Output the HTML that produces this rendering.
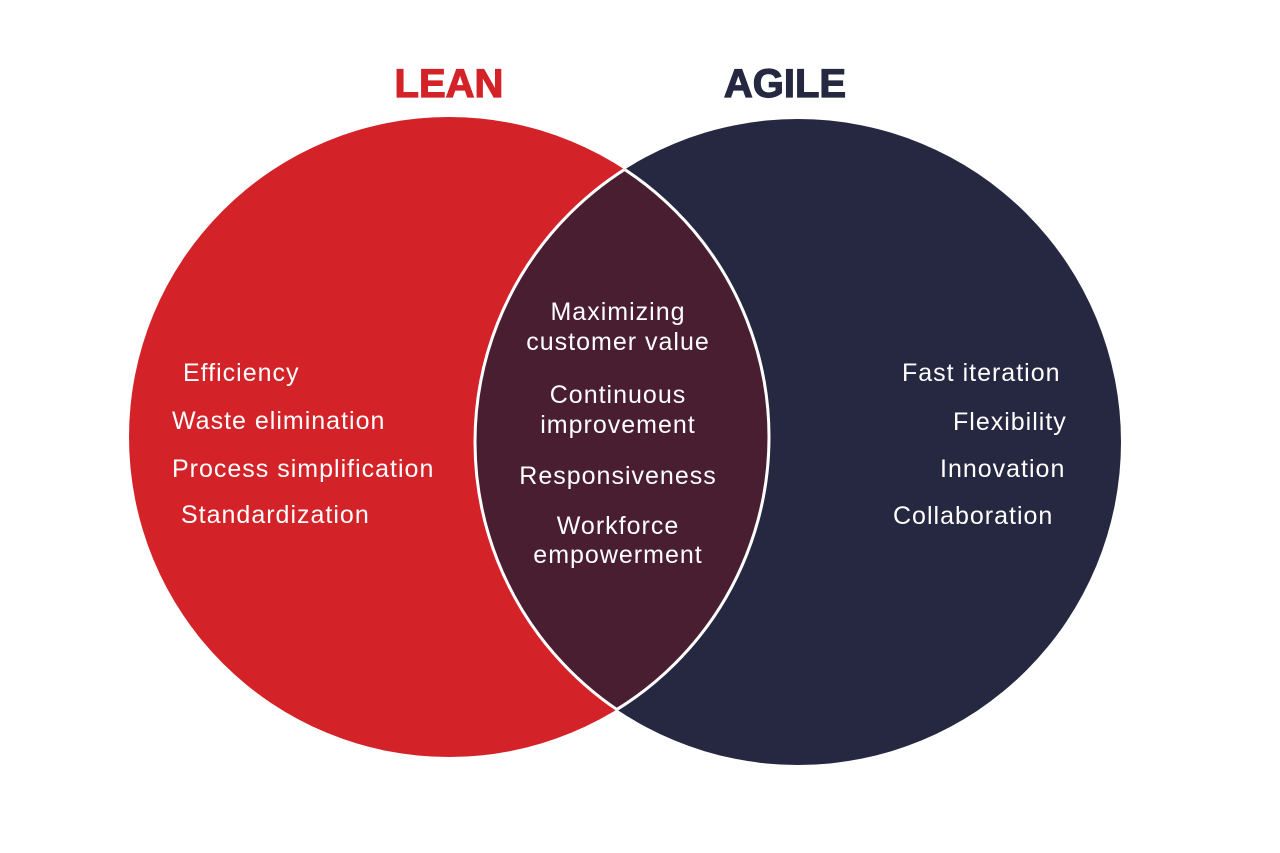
<!DOCTYPE html>
<html><head><meta charset="utf-8"><style>
html,body{margin:0;padding:0;background:#fff;}
svg{display:block;}
text{font-family:"Liberation Sans",sans-serif;}
</style></head><body>
<svg width="1280" height="853" viewBox="0 0 1280 853">
<defs>
<clipPath id="cl"><circle cx="449" cy="437" r="320"/></clipPath>
<clipPath id="cr"><circle cx="798" cy="442" r="323"/></clipPath>
</defs>
<circle cx="449" cy="437" r="320" fill="#d42328"/>
<circle cx="798" cy="442" r="323" fill="#252840"/>
<g clip-path="url(#cl)">
<circle cx="798" cy="442" r="323" fill="#4a1e31" stroke="#fff" stroke-width="3"/>
</g>
<g clip-path="url(#cr)">
<circle cx="449" cy="437" r="320" fill="none" stroke="#fff" stroke-width="3"/>
</g>
<text x="449" y="97" text-anchor="middle" font-size="40" font-weight="bold" fill="#d42328" stroke="#d42328" stroke-width="1.2">LEAN</text>
<text x="785" y="97" text-anchor="middle" font-size="40" font-weight="bold" fill="#252840" stroke="#252840" stroke-width="1.2">AGILE</text>
<g fill="#fff" font-size="25" letter-spacing="1">
<text x="183" y="381">Efficiency</text>
<text x="172" y="429">Waste elimination</text>
<text x="172" y="477">Process simplification</text>
<text x="181" y="523">Standardization</text>
<text x="902" y="381">Fast iteration</text>
<text x="953" y="430">Flexibility</text>
<text x="940" y="477">Innovation</text>
<text x="893" y="524">Collaboration</text>
<g text-anchor="middle">
<text x="618" y="320">Maximizing</text>
<text x="618" y="350">customer value</text>
<text x="618" y="403">Continuous</text>
<text x="618" y="433">improvement</text>
<text x="618" y="484">Responsiveness</text>
<text x="618" y="534">Workforce</text>
<text x="618" y="563">empowerment</text>
</g>
</g>
</svg>
</body></html>
